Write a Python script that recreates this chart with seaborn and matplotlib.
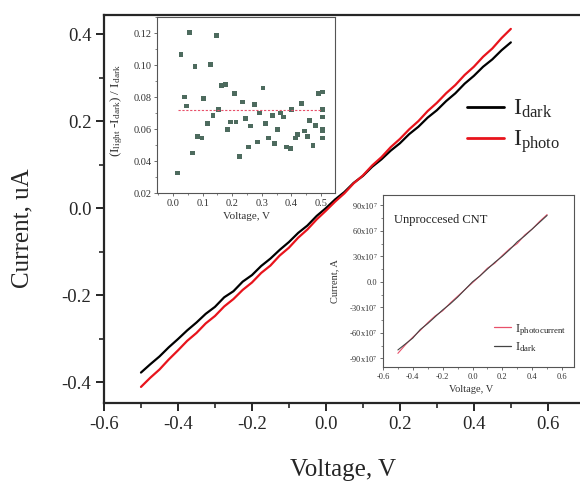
import pandas as pd
import seaborn as sns
import matplotlib.pyplot as plt
from matplotlib.ticker import MultipleLocator, FixedLocator, FixedFormatter

# main I-V curves (uA)
voltage = [-0.5, -0.475, -0.45, -0.425, -0.4, -0.375, -0.35, -0.325, -0.3, -0.275,
           -0.25, -0.225, -0.2, -0.175, -0.15, -0.125, -0.1, -0.075, -0.05, -0.025,
           0.0, 0.025, 0.05, 0.075, 0.1, 0.125, 0.15, 0.175, 0.2, 0.225,
           0.25, 0.275, 0.3, 0.325, 0.35, 0.375, 0.4, 0.425, 0.45, 0.475, 0.5]
i_dark = [-0.378, -0.359, -0.341, -0.320, -0.301, -0.281, -0.263, -0.243, -0.227, -0.205,
          -0.191, -0.169, -0.154, -0.133, -0.116, -0.096, -0.078, -0.057, -0.040, -0.018,
          0.000, 0.020, 0.037, 0.058, 0.074, 0.095, 0.112, 0.132, 0.149, 0.170,
          0.187, 0.208, 0.225, 0.246, 0.264, 0.286, 0.304, 0.325, 0.342, 0.363, 0.381]
i_photo = [-0.411, -0.390, -0.371, -0.348, -0.327, -0.305, -0.287, -0.265, -0.248, -0.226,
           -0.209, -0.188, -0.171, -0.149, -0.132, -0.109, -0.091, -0.068, -0.049, -0.026,
           -0.006, 0.015, 0.034, 0.057, 0.075, 0.098, 0.117, 0.140, 0.159, 0.181,
           0.200, 0.223, 0.242, 0.264, 0.283, 0.306, 0.325, 0.348, 0.367, 0.391, 0.412]

# inset 1: (I_light - I_dark) / I_dark
ratio_v = [0.016, 0.027, 0.038, 0.045, 0.056, 0.067, 0.074, 0.084, 0.098, 0.103,
           0.117, 0.126, 0.135, 0.146, 0.154, 0.165, 0.178, 0.183, 0.194, 0.207,
           0.213, 0.225, 0.235, 0.244, 0.255, 0.262, 0.274, 0.285, 0.292, 0.304,
           0.312, 0.322, 0.335, 0.344, 0.354, 0.364, 0.373, 0.384, 0.396, 0.401,
           0.413, 0.421, 0.433, 0.444, 0.453, 0.462, 0.473, 0.481, 0.492, 0.504,
           0.504, 0.504, 0.504, 0.504, 0.504]
ratio = [0.0325, 0.1065, 0.0800, 0.0744, 0.1204, 0.0450, 0.0992, 0.0554, 0.0544, 0.0790,
         0.0633, 0.1004, 0.0685, 0.1183, 0.0721, 0.0871, 0.0879, 0.0598, 0.0644, 0.0823,
         0.0644, 0.0429, 0.0769, 0.0665, 0.0488, 0.0619, 0.0754, 0.0519, 0.0700, 0.0856,
         0.0633, 0.0544, 0.0685, 0.0508, 0.0598, 0.0700, 0.0675, 0.0488, 0.0477, 0.0721,
         0.0544, 0.0565, 0.0758, 0.0588, 0.0554, 0.0654, 0.0498, 0.0623, 0.0821, 0.0831,
         0.0721, 0.0675, 0.0598, 0.0588, 0.0544]
ratio_mean = 0.0721
mean_span = [0.017, 0.5]

# inset 2: unprocessed CNT (x10^7 A)
cnt_v = [-0.5, -0.45, -0.4, -0.35, -0.3, -0.25, -0.2, -0.15, -0.1, -0.05, 0.0,
         0.05, 0.1, 0.15, 0.2, 0.25, 0.3, 0.35, 0.4, 0.45, 0.5]
cnt_dark = [-80, -73, -66, -56, -49, -41, -33, -26, -18, -9, 0,
            7, 15, 23, 30, 38, 47, 54, 62, 70, 78]
cnt_photo = [-84, -74, -65, -57, -48, -40, -34, -25, -17, -9, -1,
             7, 16, 22, 31, 39, 45, 55, 62, 71, 79]

sns.set_theme(style="ticks")
plt.rcParams["font.family"] = ["Liberation Serif", "DejaVu Serif"]
plt.rcParams["mathtext.fontset"] = "custom"
plt.rcParams["mathtext.rm"] = "Liberation Serif"
plt.rcParams["mathtext.it"] = "Liberation Serif:italic"

main = pd.DataFrame({"V": voltage * 2, "I": i_dark + i_photo,
                     "kind": ["dark"] * len(voltage) + ["photo"] * len(voltage)})

fig = plt.figure(figsize=(5.8, 4.83), dpi=100)
ax = fig.add_axes([0.1793, 0.1656, 0.829, 0.8034])
sns.lineplot(data=main, x="V", y="I", hue="kind", palette={"dark": "black", "photo": "#e8141c"},
             linewidth=1.6, ax=ax, legend=False, estimator=None, sort=False)
ax.set_xlim(-0.6, 0.7)
ax.set_ylim(-0.448, 0.444)
ax.xaxis.set_major_locator(FixedLocator([-0.6, -0.4, -0.2, 0.0, 0.2, 0.4, 0.6]))
ax.xaxis.set_minor_locator(MultipleLocator(0.1))
ax.yaxis.set_major_locator(FixedLocator([-0.4, -0.2, 0.0, 0.2, 0.4]))
ax.yaxis.set_minor_locator(MultipleLocator(0.1))
ax.xaxis.set_major_formatter(FixedFormatter(["-0.6", "-0.4", "-0.2", "0.0", "0.2", "0.4", "0.6"]))
ax.yaxis.set_major_formatter(FixedFormatter(["-0.4", "-0.2", "0.0", "0.2", "0.4"]))
ax.tick_params(which="major", direction="out", length=6, width=1.4, labelsize=13.5, pad=3)
ax.tick_params(which="minor", direction="out", length=3.5, width=1.2)
for s in ax.spines.values():
    s.set_linewidth(1.6)
ax.set_xlabel("Voltage, V", fontsize=18)
ax.set_ylabel("Current, uA", fontsize=18)
ax.xaxis.set_label_coords(0.497, -0.173)
ax.xaxis.label.set_va("center")
ax.yaxis.set_label_coords(-0.17, 0.45)
ax.yaxis.label.set_va("center")

h_dark, = ax.plot([], [], color="black", lw=2)
h_photo, = ax.plot([], [], color="#e8141c", lw=2)
ax.legend([h_dark, h_photo], [r"I$_{\rm dark}$", r"I$_{\rm photo}$"], loc="upper left",
          bbox_to_anchor=(0.785, 0.822), bbox_transform=fig.transFigure, frameon=False,
          fontsize=17, handlelength=1.55, handletextpad=0.4, labelspacing=0.35, borderpad=0)

# inset 1
ax1 = fig.add_axes([0.2707, 0.6004, 0.3069, 0.3644])
ax1.set_zorder(3)
sns.scatterplot(x=ratio_v, y=ratio, marker="s", s=12, color="#4d6b5e", edgecolor="none", ax=ax1)
ax1.plot(mean_span, [ratio_mean, ratio_mean], color="#e8506a", lw=0.8, ls=(0, (2, 1.5)))
ax1.set_xlim(-0.054, 0.547)
ax1.set_ylim(0.02, 0.13)
ax1.xaxis.set_major_locator(FixedLocator([0.0, 0.1, 0.2, 0.3, 0.4, 0.5]))
ax1.xaxis.set_major_formatter(FixedFormatter(["0.0", "0.1", "0.2", "0.3", "0.4", "0.5"]))
ax1.xaxis.set_minor_locator(MultipleLocator(0.05))
ax1.yaxis.set_major_locator(FixedLocator([0.02, 0.04, 0.06, 0.08, 0.10, 0.12]))
ax1.yaxis.set_major_formatter(FixedFormatter(["0.02", "0.04", "0.06", "0.08", "0.10", "0.12"]))
ax1.yaxis.set_minor_locator(MultipleLocator(0.01))
ax1.tick_params(which="major", direction="out", length=2.5, width=0.6, labelsize=7.5,
                pad=1.5, color="#555555", labelcolor="#333333")
ax1.tick_params(which="minor", direction="out", length=1.5, width=0.5, color="#555555")
for s in ax1.spines.values():
    s.set_linewidth(0.8)
    s.set_color("#555555")
ax1.set_xlabel("Voltage, V", fontsize=8, color="#333333")
ax1.set_ylabel(r"(I$_{\rm light}$ -I$_{\rm dark}$) / I$_{\rm dark}$", fontsize=9.5, color="#333333")
ax1.xaxis.set_label_coords(0.5, -0.135)
ax1.xaxis.label.set_va("center")
ax1.yaxis.set_label_coords(-0.225, 0.47)
ax1.yaxis.label.set_va("center")

# inset 2
cnt = pd.DataFrame({"V": cnt_v * 2, "I": cnt_photo + cnt_dark,
                    "kind": ["photo"] * len(cnt_v) + ["dark"] * len(cnt_v)})
ax2 = fig.add_axes([0.6603, 0.2402, 0.3293, 0.3561])
ax2.set_zorder(3)
sns.lineplot(data=cnt, x="V", y="I", hue="kind", palette={"photo": "#e8506a", "dark": "#444444"},
             linewidth=0.8, ax=ax2, legend=False, estimator=None, sort=False)
ax2.set_xlim(-0.6, 0.68)
ax2.set_ylim(-100, 102)
ax2.xaxis.set_major_locator(FixedLocator([-0.6, -0.4, -0.2, 0.0, 0.2, 0.4, 0.6]))
ax2.xaxis.set_major_formatter(FixedFormatter(["-0.6", "-0.4", "-0.2", "0.0", "0.2", "0.4", "0.6"]))
ax2.xaxis.set_minor_locator(MultipleLocator(0.1))
ax2.yaxis.set_major_locator(FixedLocator([-90, -60, -30, 0, 30, 60, 90]))
ax2.yaxis.set_major_formatter(FixedFormatter([r"-90x10$^{7}$", r"-60x10$^{7}$", r"-30x10$^{7}$", "0.0",
                                              r"30x10$^{7}$", r"60x10$^{7}$", r"90x10$^{7}$"]))
ax2.yaxis.set_minor_locator(MultipleLocator(15))
ax2.tick_params(which="major", direction="out", length=2.5, width=0.6, labelsize=6,
                pad=1.5, color="#555555", labelcolor="#333333")
ax2.tick_params(which="minor", direction="out", length=1.5, width=0.5, color="#555555")
for s in ax2.spines.values():
    s.set_linewidth(0.8)
    s.set_color("#555555")
ax2.set_xlabel("Voltage, V", fontsize=7.5, color="#333333")
ax2.set_ylabel("Current, A", fontsize=7.5, color="#333333")
ax2.xaxis.set_label_coords(0.46, -0.13)
ax2.xaxis.label.set_va("center")
ax2.yaxis.set_label_coords(-0.25, 0.5)
ax2.yaxis.label.set_va("center")
ax2.text(0.06, 0.84, "Unproccesed CNT", transform=ax2.transAxes, fontsize=9, color="#222222")
p_h, = ax2.plot([], [], color="#e8506a", lw=0.9)
d_h, = ax2.plot([], [], color="#444444", lw=0.9)
ax2.legend([p_h, d_h], [r"I$_{\rm photocurrent}$", r"I$_{\rm dark}$"], loc="lower right",
           bbox_to_anchor=(0.99, 0.04), frameon=False, fontsize=9, handlelength=1.4,
           handletextpad=0.3, labelspacing=0.2, borderpad=0)

fig.savefig("out.png", dpi=100)
